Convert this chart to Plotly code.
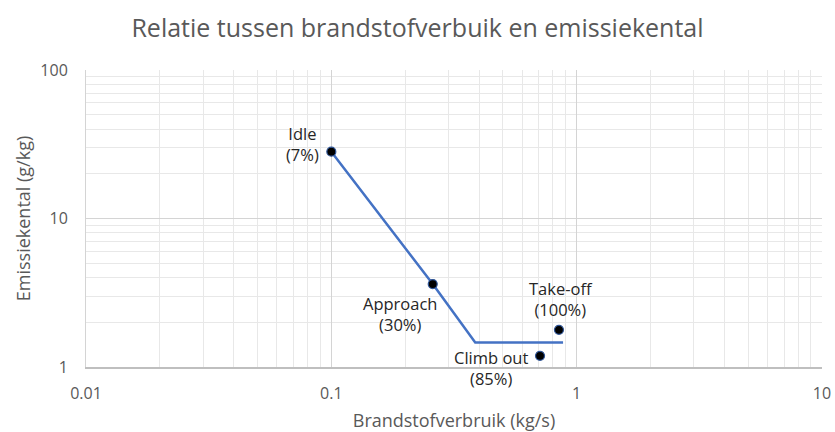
import math
import plotly.graph_objects as go

# Data
modes = ["Idle", "Approach", "Climb out", "Take-off"]
thrust = ["7%", "30%", "85%", "100%"]
fuel_flow = [0.10, 0.259, 0.709, 0.847]      # kg/s
emission = [28.2, 3.62, 1.19, 1.78]          # g/kg

line_x = [0.10, 0.259, 0.386, 0.88]
line_y = [28.2, 3.62, 1.46, 1.46]

x_tickvals = [0.01, 0.1, 1, 10]
x_ticktext = ["0.01", "0.1", "1", "10"]
y_tickvals = [1, 10, 100]
y_ticktext = ["1", "10", "100"]

FONT = "'Open Sans', sans-serif"

fig = go.Figure()
fig.add_trace(go.Scatter(x=line_x, y=line_y, mode="lines",
                         line=dict(color="#4472c4", width=2.5),
                         showlegend=False, hoverinfo="skip"))
fig.add_trace(go.Scatter(x=fuel_flow, y=emission, mode="markers",
                         marker=dict(color="black", size=9,
                                     line=dict(color="#2f5597", width=1.2)),
                         showlegend=False))

# label placements: (xanchor, yanchor, xshift, yshift)
placements = [
    ("right", "middle", -10, 8),
    ("center", "top", -33, -6),
    ("center", "top", -49, 12),
    ("center", "bottom", 2, 7),
]
for m, t, xv, yv, (xa, ya, xs, ys) in zip(modes, thrust, fuel_flow, emission, placements):
    fig.add_annotation(x=math.log10(xv), y=math.log10(yv), xref="x", yref="y",
                       text=f"{m}<br>({t})", showarrow=False,
                       xanchor=xa, yanchor=ya, xshift=xs, yshift=ys,
                       align="center",
                       font=dict(family=FONT, size=16.5, color="#262626"))

fig.update_layout(
    width=835, height=432,
    margin=dict(l=86, r=13, t=70, b=65),
    paper_bgcolor="white", plot_bgcolor="white",
    title=dict(text="Relatie tussen brandstofverbuik en emissiekental",
               x=0.5, xanchor="center", y=0.935, yanchor="middle",
               font=dict(family=FONT, size=25, color="#595959")),
    font=dict(family=FONT, color="#595959"),
)
fig.update_xaxes(type="log", range=[-2, 1], automargin=False,
                 tickvals=x_tickvals, ticktext=x_ticktext,
                 tickfont=dict(size=16, color="#595959"),
                 ticklabelstandoff=11,
                 showgrid=True, gridcolor="#d4d4d4", gridwidth=1,
                 minor=dict(dtick="D1", showgrid=True, gridcolor="#e8e8e8", gridwidth=1, ticks=""),
                 showline=True, linecolor="#bfbfbf", linewidth=1.5,
                 ticks="", zeroline=False,
                 title=dict(text="Brandstofverbruik (kg/s)", standoff=25,
                            font=dict(size=18, color="#595959")))
fig.update_yaxes(type="log", range=[0, 2], automargin=False,
                 tickvals=y_tickvals, ticktext=y_ticktext,
                 tickfont=dict(size=16, color="#595959"),
                 ticklabelstandoff=14,
                 showgrid=True, gridcolor="#d4d4d4", gridwidth=1,
                 minor=dict(dtick="D1", showgrid=True, gridcolor="#e8e8e8", gridwidth=1, ticks=""),
                 showline=True, linecolor="#d4d4d4", linewidth=1,
                 ticks="", zeroline=False,
                 title=dict(text="Emissiekental (g/kg)", standoff=5,
                            font=dict(size=18, color="#595959")))

fig.write_html("out.html", config={"displayModeBar": False},
               post_script="document.body.style.margin='0';document.body.style.overflow='hidden';")
